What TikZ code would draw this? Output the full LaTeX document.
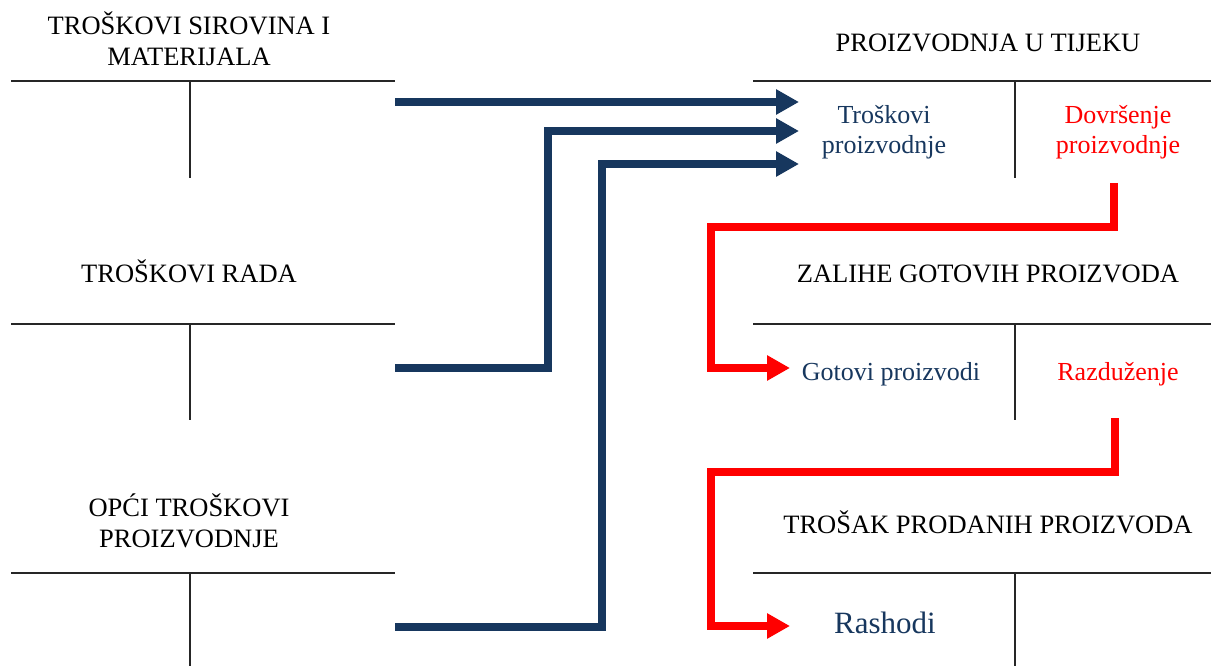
\documentclass[tikz,border=0pt]{standalone}
\usepackage{fontspec}
\setmainfont{Liberation Serif}
\usetikzlibrary{arrows.meta,positioning}
\definecolor{navy}{HTML}{17375E}

\begin{document}
\begin{tikzpicture} [
    x=1pt, y=-1pt,
    title/.style={align=center, anchor=base, inner sep=0pt, font=\fontsize{26.5}{31}\selectfont},
    entry/.style={align=center, anchor=base, inner sep=0pt, text=navy, font=\fontsize{26}{30}\selectfont},
    credit/.style={entry, text=red},
    tline/.style={line width=1.2pt, draw=black!85},
    flow/.style={line width=8pt, draw=navy, -{Triangle[length=23pt,width=24pt]}},
    back/.style={line width=8pt, draw=red, -{Triangle[length=23pt,width=24pt]}}
    ]
    \useasboundingbox (0,0) rectangle (1211,666);

    %T-accounts
    \foreach \y/\b in {81/178, 324/420, 573/666} {
        \draw[tline] (11,\y) -- (395,\y);
        \draw[tline] (190,\y) -- (190,\b);
        \draw[tline] (753,\y) -- (1211,\y);
        \draw[tline] (1015,\y) -- (1015,\b);
    }

    %Nodes (base = last line)
    \node[title] (sirovine) at (189,66) {TROŠKOVI SIROVINA I\\MATERIJALA};
    \node[title] (rad)      at (189,282) {TROŠKOVI RADA};
    \node[title] (opci)     at (189,547) {OPĆI TROŠKOVI\\PROIZVODNJE};
    \node[title] (tijek)    at (988,52) {PROIZVODNJA U TIJEKU};
    \node[title] (zalihe)   at (988,282) {ZALIHE GOTOVIH PROIZVODA};
    \node[title] (prodano)  at (988,533) {TROŠAK PRODANIH PROIZVODA};

    \node[entry]  (troskovi)   at (884,154) {Troškovi\\proizvodnje};
    \node[credit] (dovrsenje)  at (1118,154) {Dovršenje\\proizvodnje};
    \node[entry]  (gotovi)     at (891,380) {Gotovi proizvodi};
    \node[credit] (razduzenje) at (1118,380) {Razduženje};
    \node[entry, font=\fontsize{31}{36}\selectfont] (rashodi) at (885,633) {Rashodi};

    \coordinate (sirovine-out) at (395,102);
    \coordinate (rad-out)      at (395,368);
    \coordinate (opci-out)     at (395,627);
    \coordinate (tp-in1)       at (799,102);
    \coordinate (tp-in2)       at (799,131);
    \coordinate (tp-in3)       at (799,164);
    \coordinate (dov-out)      at (1114,183);
    \coordinate (raz-out)      at (1115,418);
    \coordinate (gotovi-in)    at (790,368);
    \coordinate (rashodi-in)   at (790,626);

    %Lines
    \draw[flow] (sirovine-out) -- (tp-in1);
    \draw[flow] (rad-out) -- ++(153,0) |- (tp-in2);
    \draw[flow] (opci-out) -- ++(207,0) |- (tp-in3);
    \draw[back] (dov-out) -- ++(0,44) -| ++(-403,141) -- (gotovi-in);
    \draw[back] (raz-out) -- ++(0,54) -| ++(-404,154) -- (rashodi-in);

\end{tikzpicture}
\end{document}
